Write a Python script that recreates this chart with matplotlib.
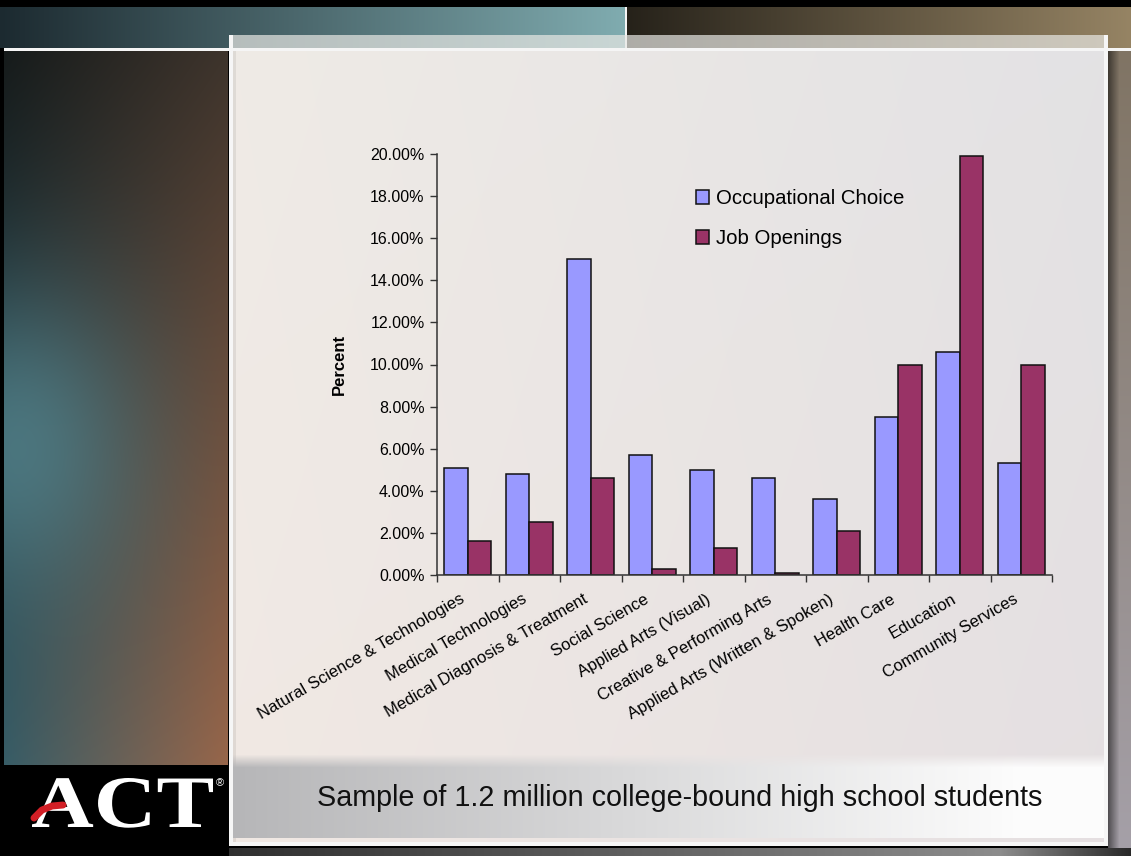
import numpy as np
import matplotlib.pyplot as plt
from matplotlib.ticker import PercentFormatter, FixedLocator
from matplotlib.textpath import TextPath
from matplotlib.patches import PathPatch
from matplotlib.font_manager import FontProperties
from matplotlib.transforms import Affine2D, ScaledTranslation

categories = [
    "Natural Science & Technologies",
    "Medical Technologies",
    "Medical Diagnosis & Treatment",
    "Social Science",
    "Applied Arts (Visual)",
    "Creative & Performing Arts",
    "Applied Arts (Written & Spoken)",
    "Health Care",
    "Education",
    "Community Services",
]
occupational_choice = [5.1, 4.8, 15.0, 5.7, 5.0, 4.6, 3.6, 7.5, 10.6, 5.3]
job_openings = [1.6, 2.5, 4.6, 0.3, 1.3, 0.1, 2.1, 10.0, 19.9, 10.0]

y_ticks = [0, 2, 4, 6, 8, 10, 12, 14, 16, 18, 20]
caption = "Sample of 1.2 million college-bound high school students"

W, H = 1131, 856
FONT = "Liberation Sans"


def lerp(c0, c1, t):
    c0 = np.asarray(c0, float)
    c1 = np.asarray(c1, float)
    return c0 * (1 - t)[..., None] + c1 * t[..., None]


def slide_background():
    img = np.zeros((H, W, 3))
    xs = np.arange(W, dtype=float)

    # top band: teal on the left, dark bronze on the right
    img[7:48, :625] = lerp((28, 42, 48), (128, 172, 176), xs[:625] / 625)
    img[7:48, 627:] = lerp((38, 34, 26), (150, 132, 100), (xs[627:] - 627) / (W - 627))
    img[7:48, 625:627] = 245
    img[48:51, 4:] = 245

    # left strip
    yy, xx = np.mgrid[51:765, 4:228].astype(float)
    u = (xx - 4) / 224
    v = (yy - 51) / 714
    top = lerp((22, 27, 27), (62, 52, 44), u)
    bot = lerp((55, 92, 102), (152, 102, 74), u)
    col = top * (1 - v)[..., None] + bot * v[..., None]
    w = 0.75 * np.exp(-((u - 0.05) / 0.55) ** 2 - ((v - 0.55) / 0.22) ** 2)
    col = col * (1 - w)[..., None] + np.array([85, 135, 145]) * w[..., None]
    img[51:765, 4:228] = col

    # right strip and shadows
    yy, xx = np.mgrid[51:848, 1108:W].astype(float)
    img[51:848, 1108:W] = lerp((128, 116, 100), (165, 160, 168), (yy - 51) / 797)
    img[51:848, 1108:1120] *= np.linspace(0.5, 1.0, 12)[None, :, None]
    img[848:, :] = lerp((20, 20, 20), (140, 140, 140), np.clip(xs / 1000, 0, 1))[None]
    img[848:, 1000:] = lerp((140, 140, 140), (40, 40, 40), (xs[1000:] - 1000) / 131)[None]
    img[765:856, :229] = 0

    # light panel
    img[35:48, 231:1108] = img[35:48, 231:1108] * 0.3 + np.array([232, 232, 228]) * 0.7
    yy, xx = np.mgrid[51:842, 233:1106].astype(float)
    u = (xx - 233) / 873
    v = (yy - 51) / 791
    panel = lerp((239, 235, 230), (227, 226, 228), u)
    panel += (v * 4)[..., None] * np.array([0.5, -0.6, -0.6])
    img[51:842, 233:1106] = panel
    img[35:845, 229:233] = 246
    img[51:842, 233:236] *= 0.93
    img[842:846, 229:1108] = 246
    img[35:846, 1104:1108] = 246

    # caption strip
    strip = lerp((182, 182, 184), (252, 252, 252), np.clip((xs[233:1104] - 233) / 780, 0, 1))
    img[768:838, 233:1104] = strip[None]
    fade = np.linspace(0, 1, 14)
    img[754:768, 233:1104] = (img[754:768, 233:1104] * (1 - fade)[:, None, None]
                               + strip[None] * fade[:, None, None])
    return np.clip(img, 0, 255) / 255


fig = plt.figure(figsize=(W / 100, H / 100), dpi=100)

bg = fig.add_axes([0, 0, 1, 1])
bg.imshow(slide_background(), extent=(0, W, H, 0), aspect="auto", interpolation="bilinear")
bg.set_xlim(0, W)
bg.set_ylim(H, 0)
bg.axis("off")

# ACT logo: a wide bold serif wordmark with a red swoosh
logo = TextPath((0, 0), "ACT", size=74,
                prop=FontProperties(family="Liberation Serif", weight="bold"))
ext = logo.get_extents()
sx = 181 / ext.width
logo = Affine2D().translate(-ext.x0, 0).scale(sx, -1).translate(32, 827).transform_path(logo)
bg.add_patch(PathPatch(logo, facecolor="white", edgecolor="none"))
bg.text(216, 783, "\u00ae", color="white", fontsize=8, family=FONT, va="center")
bg.plot([34, 42, 52, 63], [818, 810, 806, 805], color="#d21f26", lw=5,
        solid_capstyle="round")

bg.text(680, 798, caption, fontsize=20.7, family=FONT, color="#111111",
        ha="center", va="center")

ax = fig.add_axes([437 / W, 1 - 575 / H, 615 / W, 421 / H])
ax.patch.set_alpha(0)

x = np.arange(len(categories))
bw = 0.385
ax.bar(x - bw / 2, occupational_choice, bw, color="#9999ff", edgecolor="#111111",
       linewidth=1.1, label="Occupational Choice")
ax.bar(x + bw / 2, job_openings, bw, color="#993366", edgecolor="#111111",
       linewidth=1.1, label="Job Openings")

ax.set_xlim(-0.5, len(categories) - 0.5)
ax.set_ylim(0, 20)
ax.yaxis.set_major_locator(FixedLocator(y_ticks))
ax.yaxis.set_major_formatter(PercentFormatter(100, decimals=2))

ax.set_xticks(x)
ax.set_xticks(np.arange(len(categories) + 1) - 0.5, minor=True)
ax.tick_params(axis="x", which="major", length=0, pad=12)
ax.tick_params(axis="x", which="minor", length=5, width=1, color="#333333")
ax.tick_params(axis="y", length=5, width=1, color="#333333", labelsize=11.5, pad=4)
ax.set_xticklabels(categories, rotation=30, ha="right", va="top",
                   rotation_mode="anchor", fontsize=12, family=FONT)
shift = ScaledTranslation(-8 / 100, 0, fig.dpi_scale_trans)
for lab in ax.get_xticklabels():
    lab.set_transform(lab.get_transform() + shift)
for lab in ax.get_yticklabels():
    lab.set_family(FONT)

for side in ("top", "right"):
    ax.spines[side].set_visible(False)
for side in ("left", "bottom"):
    ax.spines[side].set_color("#333333")
    ax.spines[side].set_linewidth(1.1)

ax.set_ylabel("Percent", fontsize=12, fontweight="bold", family=FONT)
ax.yaxis.set_label_coords(-0.146, 0.5)

ax.legend(loc="upper left", bbox_to_anchor=(696 / W, 1 - 189 / H),
          bbox_transform=fig.transFigure, frameon=False,
          prop={"family": FONT, "size": 14.7}, handlelength=0.65,
          handleheight=0.65, handletextpad=0.35, labelspacing=1.05,
          borderpad=0, borderaxespad=0)

fig.savefig("out.png", dpi=100)
